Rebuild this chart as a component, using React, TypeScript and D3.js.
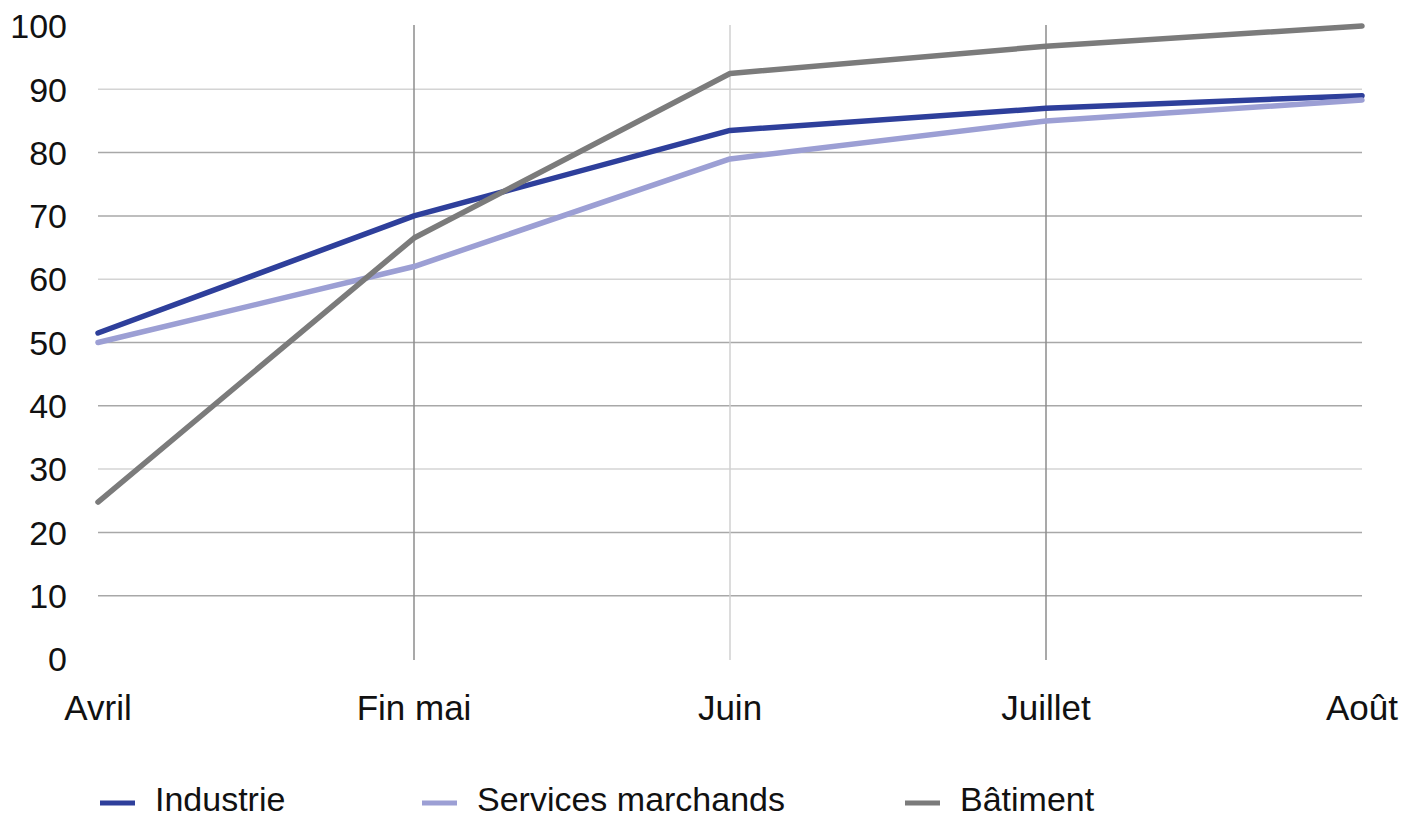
import React from "react";
import * as d3 from "d3";

const categories = ["Avril", "Fin mai", "Juin", "Juillet", "Août"];
const industrie = [51.5, 70, 83.5, 87, 89];
const services = [50, 62, 79, 85, 88.3];
const batiment = [24.8, 66.5, 92.5, 96.8, 100];
const yTicks = [0, 10, 20, 30, 40, 50, 60, 70, 80, 90, 100];
const gridTicks = [10, 20, 30, 40, 50, 60, 70, 80, 90];
const seriesNames = ["Industrie", "Services marchands", "Bâtiment"];
const seriesColors = ["#2e3f9b", "#9c9fd4", "#7b7b7b"];

const W = 1403;
const H = 819;
const FONT = "'Liberation Sans', Arial, sans-serif";

export default function App() {
  const x = d3.scalePoint<string>().domain(categories).range([98, 1362]);
  const y = d3.scaleLinear().domain([0, 100]).range([659, 26]);
  const line = d3
    .line<number>()
    .x((_, i) => x(categories[i]) as number)
    .y((d) => y(d));
  const series = [industrie, services, batiment];
  const legendX = [100, 422, 905];
  const vGridColors = ["#8c8c8c", "#d0d0d0", "#8c8c8c"];

  return (
    <svg
      width={W}
      height={H}
      style={{ position: "absolute", left: 0, top: 0, background: "#fff" }}
      fontFamily={FONT}
    >
      {gridTicks.map((t, i) => (
        <line
          key={"h" + t}
          x1={98}
          x2={1362}
          y1={y(t)}
          y2={y(t)}
          stroke={i % 3 === 2 ? "#d4d4d4" : "#a8a8a8"}
          strokeWidth={1.5}
        />
      ))}
      {categories.slice(1, 4).map((c, i) => (
        <line
          key={"v" + c}
          x1={x(c)}
          x2={x(c)}
          y1={25}
          y2={660}
          stroke={vGridColors[i]}
          strokeWidth={1.5}
        />
      ))}
      {yTicks.map((t) => (
        <text
          key={"yt" + t}
          x={67}
          y={y(t)}
          dy="0.36em"
          textAnchor="end"
          fontSize={34}
          fill="#111"
        >
          {t}
        </text>
      ))}
      {categories.map((c) => (
        <text
          key={"xt" + c}
          x={x(c)}
          y={720}
          textAnchor="middle"
          fontSize={35}
          fill="#111"
        >
          {c}
        </text>
      ))}
      {series.map((s, i) => (
        <path
          key={"s" + i}
          d={line(s) || ""}
          fill="none"
          stroke={seriesColors[i]}
          strokeWidth={5.5}
          strokeLinejoin="round"
          strokeLinecap="round"
        />
      ))}
      {seriesNames.map((n, i) => (
        <g key={"lg" + n}>
          <line
            x1={legendX[i]}
            x2={legendX[i] + 35}
            y1={803}
            y2={803}
            stroke={seriesColors[i]}
            strokeWidth={5}
          />
          <text x={legendX[i] + 55} y={811} fontSize={34} fill="#111">
            {n}
          </text>
        </g>
      ))}
    </svg>
  );
}
